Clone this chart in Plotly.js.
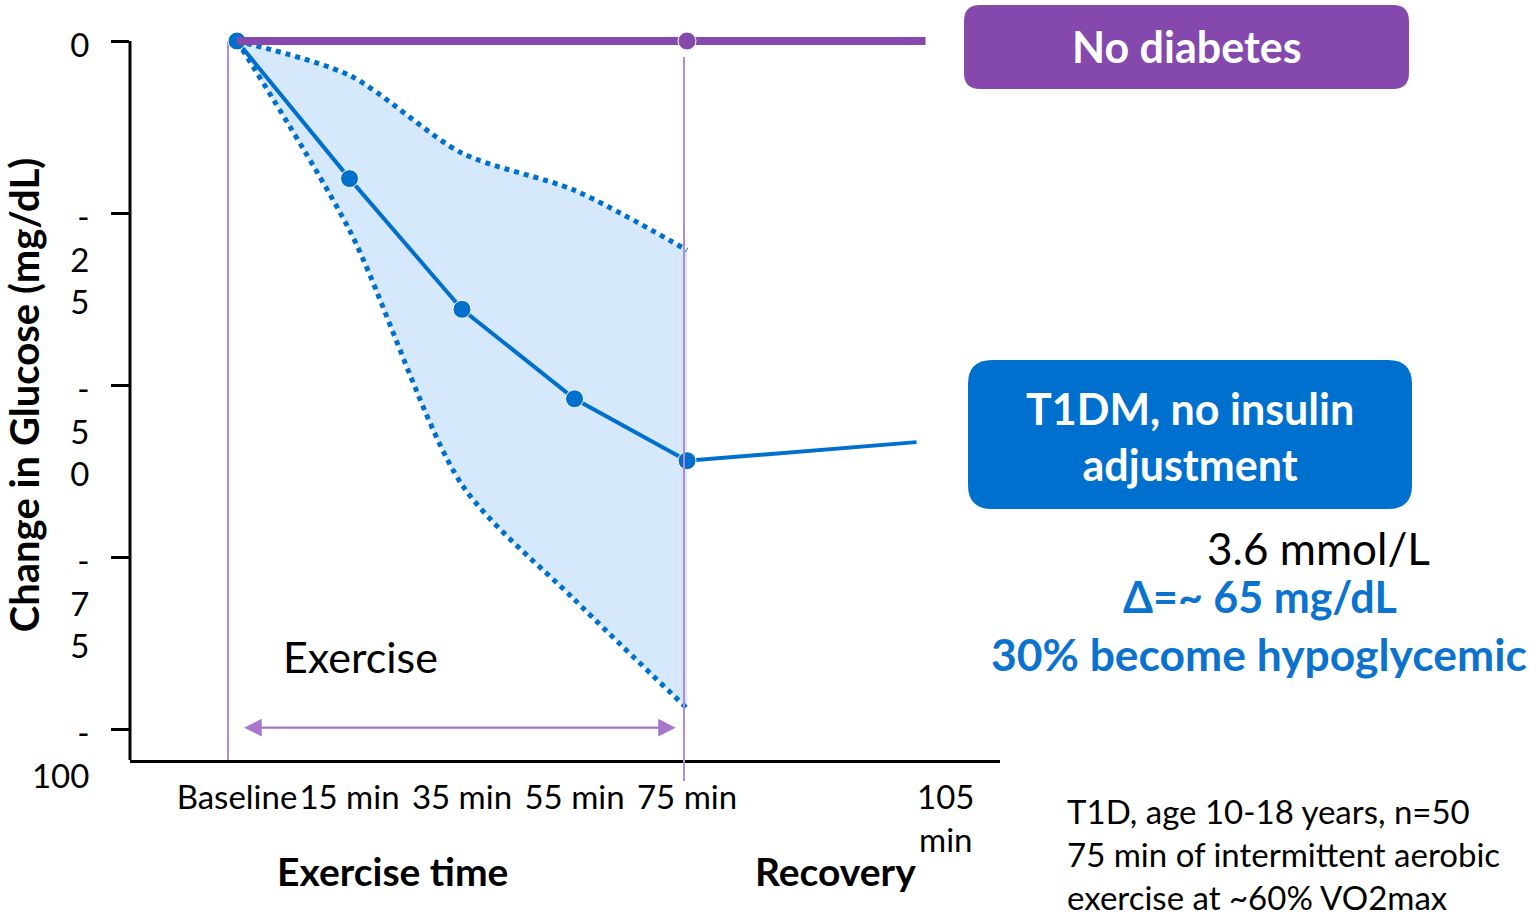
<!DOCTYPE html>
<html>
<head>
<meta charset="utf-8">
<script src="https://cdn.plot.ly/plotly-3.0.1.min.js"></script>
<style>
  html, body { margin: 0; padding: 0; background: #ffffff; }
  #chart { width: 1529px; height: 919px; }
</style>
</head>
<body>
<div id="chart"></div>
<script>
// ---- data ----
var categories = ["Baseline", "15 min", "35 min", "55 min", "75 min", "105<br>min"];
var catPos = [0, 1, 2, 3, 4, 6.3];
var meanX = [0, 1, 2, 3, 4, 6.04];
var meanT1DM = [0, -20, -39, -52, -61, -58.3];
var upperX = [0, 1, 2, 3, 4];
var upperBound = [0, -5, -16.3, -21.7, -30.4];
var lowerBound = [0, -27.5, -64.5, -81.2, -97];
var noDiabX = [0, 4, 6.12];
var noDiabetes = [0, 0, 0];
var yTickVals = [0, -25, -50, -75, -100];
var yTickText = ["0<br> <br> ", "-<br>2<br>5", "-<br>5<br>0", "-<br>7<br>5", "-<br>100<br> "];

var PURPLE = '#8548AD';
var LPURPLE = '#B48AD8';
var BLUE = '#0070CC';
var TBLUE = '#0B73CE';
var FONT = 'Lato, "Open Sans", sans-serif';

var traces = [
  { x: upperX, y: upperBound, type: 'scatter', mode: 'lines',
    line: { color: BLUE, width: 5, dash: 'dot', shape: 'spline', smoothing: 0.8 },
    hoverinfo: 'skip', showlegend: false },
  { x: upperX, y: lowerBound, type: 'scatter', mode: 'lines', fill: 'tonexty',
    fillcolor: '#D5E8FC',
    line: { color: BLUE, width: 5, dash: 'dot', shape: 'spline', smoothing: 0.8 },
    hoverinfo: 'skip', showlegend: false },
  { x: meanX, y: meanT1DM, type: 'scatter', mode: 'lines+markers',
    line: { color: BLUE, width: 4 },
    marker: { color: BLUE, size: [18, 18, 18, 18, 18, 0], opacity: 1 },
    showlegend: false },
  { x: noDiabX, y: noDiabetes, type: 'scatter', mode: 'lines+markers',
    line: { color: PURPLE, width: 8 },
    marker: { color: PURPLE, size: [0, 18, 0], opacity: 1 },
    showlegend: false }
];

function px(x) { return (x - 130) / 870; }
function py(y) { return (760 - y) / 730; }
function roundRect(x0, y0, x1, y1, r) {
  var rx = r / 870, ry = r / 730;
  var X0 = px(x0), X1 = px(x1), Y0 = py(y0), Y1 = py(y1);
  return 'M' + (X0 + rx) + ',' + Y0 + ' L' + (X1 - rx) + ',' + Y0 +
    ' Q' + X1 + ',' + Y0 + ' ' + X1 + ',' + (Y0 - ry) +
    ' L' + X1 + ',' + (Y1 + ry) + ' Q' + X1 + ',' + Y1 + ' ' + (X1 - rx) + ',' + Y1 +
    ' L' + (X0 + rx) + ',' + Y1 + ' Q' + X0 + ',' + Y1 + ' ' + X0 + ',' + (Y1 + ry) +
    ' L' + X0 + ',' + (Y0 - ry) + ' Q' + X0 + ',' + Y0 + ' ' + (X0 + rx) + ',' + Y0 + ' Z';
}

var shapes = [
  // y axis line
  { type: 'line', xref: 'paper', yref: 'y', x0: 0, x1: 0, y0: 0, y1: -104.5,
    line: { color: '#000', width: 3 }, layer: 'above' },
  // vertical guide lines
  { type: 'line', xref: 'x', yref: 'y', x0: -0.08, x1: -0.08, y0: 0, y1: -104.5,
    line: { color: LPURPLE, width: 2 }, layer: 'below' },
  { type: 'line', xref: 'paper', yref: 'paper', x0: px(684), x1: px(684), y0: py(57), y1: py(781),
    line: { color: LPURPLE, width: 2 }, layer: 'above' },
  // label boxes
  { type: 'path', xref: 'paper', yref: 'paper', path: roundRect(964, 5, 1409, 89, 16),
    fillcolor: PURPLE, line: { width: 0 } },
  { type: 'path', xref: 'paper', yref: 'paper', path: roundRect(968, 360, 1412, 509, 24),
    fillcolor: '#0070CF', line: { width: 0 } }
];

function txt(x, y, text, size, color, extra) {
  var a = { xref: 'paper', yref: 'paper', x: px(x), y: py(y), text: text, showarrow: false,
    xanchor: 'center', yanchor: 'middle',
    font: { family: FONT, size: size, color: color } };
  if (extra) { for (var k in extra) a[k] = extra[k]; }
  return a;
}

var annotations = [
  // exercise arrow
  { xref: 'x', yref: 'y', axref: 'x', ayref: 'y', x: 3.9, y: -99.8, ax: 0.05, ay: -99.8,
    text: '', showarrow: true, arrowside: 'end+start', arrowhead: 2, startarrowhead: 2,
    arrowsize: 1.6, startarrowsize: 1.6, arrowwidth: 2.2, arrowcolor: '#A877CC', standoff: 0, startstandoff: 0 },
  txt(360, 656, 'Exercise', 43, '#000'),
  txt(392, 871, '<b>Exercise time</b>', 39, '#000'),
  txt(835, 871, '<b>Recovery</b>', 39, '#000'),
  txt(1187, 47, '<b>No diabetes</b>', 43, '#fff'),
  txt(1190, 436, '<b>T1DM, no insulin<br>adjustment</b>', 43, '#fff'),
  txt(1318, 548, '3.6 mmol/L', 44, '#000'),
  txt(1260, 596, '<b>Δ=~ 65 mg/dL</b>', 43, TBLUE),
  txt(1259, 653, '<b>30% become hypoglycemic</b>', 44.4, TBLUE),
  txt(1065, 854, 'T1D, age 10-18 years, n=50<br>75 min of intermittent aerobic<br>exercise at ~60% VO2max', 33, '#000',
    { xanchor: 'left', align: 'left' })
];

var layout = {
  width: 1529, height: 919,
  margin: { l: 130, r: 529, t: 30, b: 159, pad: 0 },
  paper_bgcolor: '#fff', plot_bgcolor: '#fff',
  showlegend: false,
  font: { family: FONT, color: '#000' },
  xaxis: {
    range: [-0.951, 6.782], tickmode: 'array', tickvals: catPos, ticktext: categories,
    showgrid: false, zeroline: false, showline: true, linecolor: '#000', linewidth: 3,
    ticks: '', tickfont: { family: FONT, size: 33, color: '#000' }, ticklabelstandoff: 6,
    fixedrange: true
  },
  yaxis: {
    range: [-104.5, 1.6], tickmode: 'array', tickvals: yTickVals, ticktext: yTickText,
    showgrid: false, zeroline: false, showline: false,
    ticks: 'outside', ticklen: 18, tickwidth: 3, tickcolor: '#000',
    tickfont: { family: FONT, size: 33, color: '#000' }, ticklabelstandoff: 15,
    ticklabelshift: 47,
    title: { text: '<b>Change in Glucose (mg/dL)</b>', font: { family: FONT, size: 40, color: '#000' }, standoff: 4 },
    fixedrange: true
  },
  shapes: shapes,
  annotations: annotations
};

Plotly.newPlot('chart', traces, layout, { displayModeBar: false, staticPlot: true });
</script>
</body>
</html>
